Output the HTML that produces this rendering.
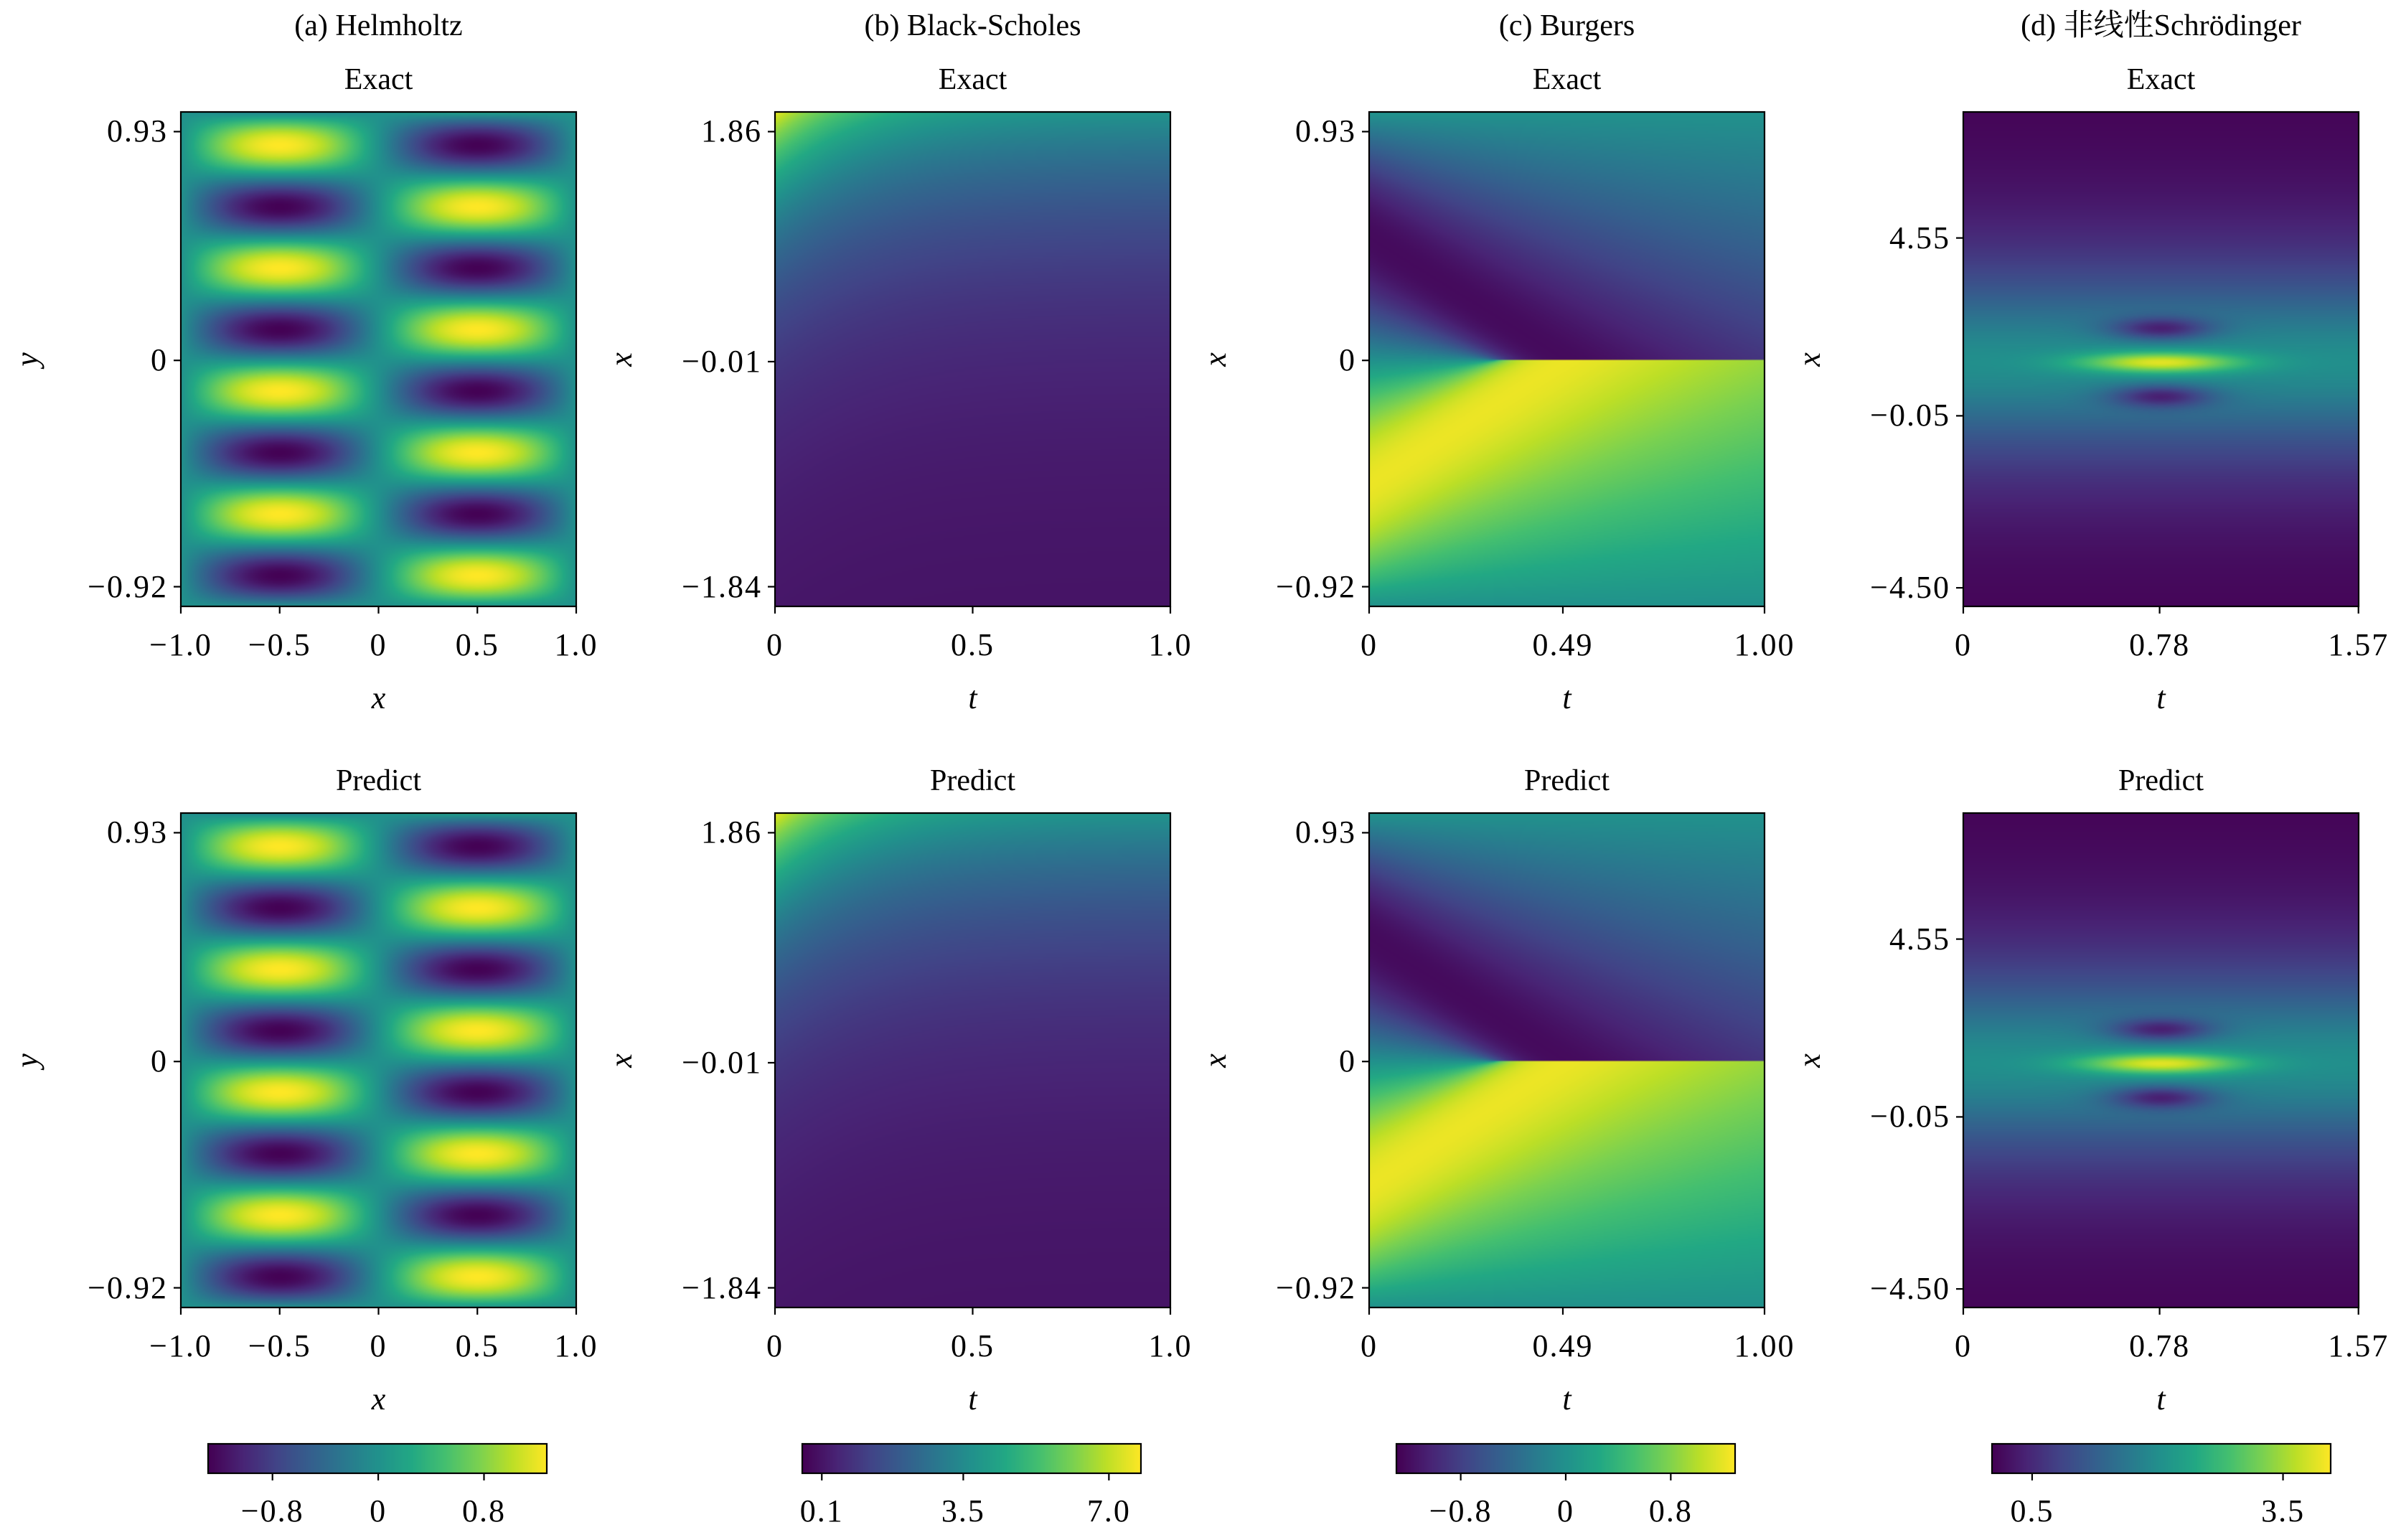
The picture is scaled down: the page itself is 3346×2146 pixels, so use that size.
<!DOCTYPE html>
<html><head><meta charset="utf-8">
<style>
html,body{margin:0;padding:0;background:#fff;}
#root{position:relative;width:3346px;height:2146px;overflow:hidden;background:#fff;font-family:"Liberation Serif","Noto Serif CJK SC",serif;color:#000;}
canvas{position:absolute;}
.t{position:absolute;white-space:nowrap;transform:translate(-50%,-50%);line-height:1;}
svg{position:absolute;left:0;top:0;}
</style></head>
<body>
<div id="root">
<svg id="ov" width="3346" height="2146"></svg>
</div>
<script>
// ---- chart data ----
const panelTitles = ["(a) Helmholtz","(b) Black-Scholes","(c) Burgers","(d) 非线性Schrödinger"];
const xTickVals = [[-1,-0.5,0,0.5,1],[0,0.5,1],[0,0.49,1],[0,0.78,1.57]];
const xTickLabels = [["−1.0","−0.5","0","0.5","1.0"],["0","0.5","1.0"],["0","0.49","1.00"],["0","0.78","1.57"]];
const xDomains = [[-1,1],[0,1],[0,1],[0,1.5708]];
const yTickVals = [[0.93,0,-0.92],[1.86,-0.01,-1.84],[0.93,0,-0.92],[4.55,-0.05,-4.5]];
const yTickLabels = [["0.93","0","−0.92"],["1.86","−0.01","−1.84"],["0.93","0","−0.92"],["4.55","−0.05","−4.50"]];
const yDomains = [[-1.0,1.01],[-2.0,2.02],[-1.0,1.01],[-4.98,7.81]];
const xLabels = ["x","t","t","t"];
const yLabels = ["y","x","x","x"];
const cbMin = [-1.287,-0.37,-1.29,0.02];
const cbMax = [1.275,7.77,1.29,4.07];
const cbTickVals = [[-0.8,0,0.8],[0.1,3.5,7.0],[-0.8,0,0.8],[0.5,3.5]];
const cbTickLabels = [["−0.8","0","0.8"],["0.1","3.5","7.0"],["−0.8","0","0.8"],["0.5","3.5"]];
const rowTitles = ["Exact","Predict"];

// ---- layout ----
const colLeft=[252,1080,1908,2736], axW=551, rowTop=[156,1133], axH=689;
const cbLeft=[290,1118,1946,2776], cbW=472, cbTop=2012, cbH=41;
const root=document.getElementById('root'), ov=document.getElementById('ov');
const NS="http://www.w3.org/2000/svg";
const vir=[[68,1,84],[72,36,117],[65,68,135],[53,95,141],[42,120,142],[33,145,140],[34,168,132],[68,191,112],[122,209,81],[189,223,38],[253,231,37]];
function cmap(v){v=Math.max(0,Math.min(1,v))*10;const i=Math.min(9,Math.floor(v)),f=v-i;const a=vir[i],b=vir[i+1];return [a[0]+(b[0]-a[0])*f,a[1]+(b[1]-a[1])*f,a[2]+(b[2]-a[2])*f];}
function txt(s,x,y,size,name,extra){const d=document.createElement('div');d.className='t';d.textContent=s;d.style.left=x+'px';d.style.top=y+'px';d.style.fontSize=size+'px';if(extra)Object.assign(d.style,extra);


root.appendChild(d);return d;}
function line(x1,y1,x2,y2,name){const l=document.createElementNS(NS,'line');l.setAttribute('x1',x1);l.setAttribute('y1',y1);l.setAttribute('x2',x2);l.setAttribute('y2',y2);l.setAttribute('stroke','#000');l.setAttribute('stroke-width','2.2');


ov.appendChild(l);}
function rect(x,y,w,h,name){const r=document.createElementNS(NS,'rect');r.setAttribute('x',x);r.setAttribute('y',y);r.setAttribute('width',w);r.setAttribute('height',h);r.setAttribute('fill','none');r.setAttribute('stroke','#000');r.setAttribute('stroke-width','2.2');


ov.appendChild(r);}

// ---- fields ----
function helm(x,y){return 1.28*Math.sin(Math.PI*x)*Math.sin(4*Math.PI*y);}
function bs(t,x){return Math.exp(x)*(0.5+0.5*Math.exp(-5*t));}
function burg(t,x){if(x===0)return 0;const s=x<0?-1:1,ax=Math.abs(x);let lo=0,hi=1;
 for(let k=0;k<40;k++){const m=(lo+hi)/2;const h=m-t*Math.sin(Math.PI*m);if(h<ax)lo=m;else hi=m;}
 const xi=(lo+hi)/2;return 1.22*(-Math.sin(Math.PI*xi))*s;}
function nls(t,x){const s=x-1.33,dt=t-0.785;let v=2/Math.cosh(s/1.6);
 v+=1.9*Math.exp(-((dt/0.32)**2)-((s/0.27)**2));
 v-=1.35*Math.exp(-((dt/0.2)**2)-(((Math.abs(s)-0.87)/0.3)**2));
 return Math.max(0,v);}
const fields=[helm,bs,burg,nls];

function heat(ci,ri){const W=276,H=345;const c=document.createElement('canvas');c.width=W;c.height=H;
 c.style.left=colLeft[ci]+'px';c.style.top=rowTop[ri]+'px';c.style.width=axW+'px';c.style.height=axH+'px';
 
 
 root.insertBefore(c,ov);const ctx=c.getContext('2d');const im=ctx.createImageData(W,H);
 const xd=xDomains[ci],yd=yDomains[ci],f=fields[ci];
 for(let j=0;j<H;j++){const y=yd[1]-(j+0.5)/H*(yd[1]-yd[0]);
  for(let i=0;i<W;i++){const x=xd[0]+(i+0.5)/W*(xd[1]-xd[0]);
   const v=f(x,y);const col=cmap((v-cbMin[ci])/(cbMax[ci]-cbMin[ci]));const p=(j*W+i)*4;
   im.data[p]=col[0];im.data[p+1]=col[1];im.data[p+2]=col[2];im.data[p+3]=255;}}
 ctx.putImageData(im,0,0);}

for(let ci=0;ci<4;ci++){
 const L=colLeft[ci],cx=L+axW/2;
 txt(panelTitles[ci],cx,36,42,'panel-title-'+'abcd'[ci]);
 for(let ri=0;ri<2;ri++){
  const T=rowTop[ri];
  heat(ci,ri);
  rect(L,T,axW,axH,'axes-frame');
  txt(rowTitles[ri],cx,T-45,42,'row-title');
  const xd=xDomains[ci],yd=yDomains[ci];
  xTickVals[ci].forEach((v,k)=>{const px=L+(v-xd[0])/(xd[1]-xd[0])*axW;line(px,T+axH,px,T+axH+10,'x-tick');
   txt(xTickLabels[ci][k],px,T+axH+54,44,'x-tick-label',{letterSpacing:'2px'});});
  yTickVals[ci].forEach((v,k)=>{const py=T+(yd[1]-v)/(yd[1]-yd[0])*axH;line(L-10,py,L,py,'y-tick');
   txt(yTickLabels[ci][k],L-18,py,44,'y-tick-label',{letterSpacing:'2px',transform:'translate(-100%,-50%)'});});
  txt(xLabels[ci],cx,T+axH+128,44,'x-axis-title',{fontStyle:'italic'});
  txt(yLabels[ci],L-214,T+axH/2,44,'y-axis-title',{fontStyle:'italic',transform:'translate(-50%,-50%) rotate(-90deg)'});
 }
 const cb=document.createElement('canvas');cb.width=256;cb.height=1;cb.style.left=cbLeft[ci]+'px';cb.style.top=cbTop+'px';cb.style.width=cbW+'px';cb.style.height=cbH+'px';
 
 
 root.insertBefore(cb,ov);const cc=cb.getContext('2d');const ci2=cc.createImageData(256,1);
 for(let i=0;i<256;i++){const col=cmap(i/255);ci2.data[i*4]=col[0];ci2.data[i*4+1]=col[1];ci2.data[i*4+2]=col[2];ci2.data[i*4+3]=255;}
 cc.putImageData(ci2,0,0);
 rect(cbLeft[ci],cbTop,cbW,cbH,'colorbar-frame');
 cbTickVals[ci].forEach((v,k)=>{const px=cbLeft[ci]+(v-cbMin[ci])/(cbMax[ci]-cbMin[ci])*cbW;line(px,cbTop+cbH,px,cbTop+cbH+10,'colorbar-tick');
  txt(cbTickLabels[ci][k],px,2106,44,'colorbar-tick-label',{letterSpacing:'2px'});});
}
</script>
</body></html>
